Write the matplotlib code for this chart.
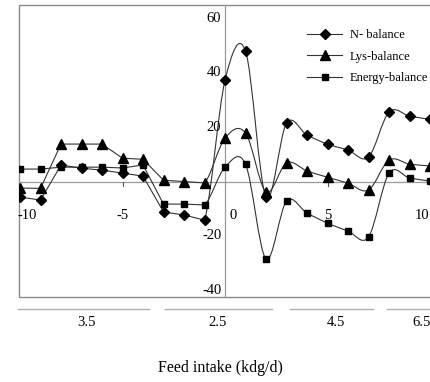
import numpy as np
import matplotlib
matplotlib.use("Agg")
import matplotlib.pyplot as plt
from matplotlib.path import Path
from matplotlib.patches import PathPatch, Rectangle
from matplotlib.lines import Line2D
import matplotlib.transforms as mtransforms

plt.rcParams['font.family'] = ['Liberation Serif', 'DejaVu Serif']

# ---- data ----
x_vals = [-10, -9, -8, -7, -6, -5, -4, -3, -2, -1, 0, 1, 2, 3, 4, 5, 6, 7, 8, 9, 10]
n_balance = [-5.7, -6.8, 6.1, 4.9, 4.2, 3.1, 2.0, -11.2, -12.3, -14.2,
             37.3, 48.0, -5.7, 21.5, 17.1, 13.8, 11.6, 9.0, 25.6, 24.1, 22.9]
lys_balance = [-2.4, -2.5, 13.8, 13.8, 13.8, 8.6, 8.2, 0.5, 0.0, -0.5,
               16.0, 17.9, -3.8, 6.9, 3.9, 1.6, -0.6, -3.1, 7.9, 6.4, 5.8]
energy_balance = [4.6, 4.6, 5.3, 5.3, 5.3, 5.0, 6.1, -8.3, -8.3, -8.6,
                  5.3, 6.4, -28.5, -7.2, -11.6, -15.3, -18.2, -20.4, 3.1, 1.3, 0.2]
series_names = ["N- balance", "Lys-balance", "Energy-balance"]
x_ticks = [-10, -5, 0, 5, 10]
y_ticks = [-40, -20, 0, 20, 40, 60]
group_labels = ["3.5", "2.5", "4.5", "6.5"]
group_spans = [(-10.1, -3.7), (-2.95, 2.27), (3.15, 7.2), (7.9, 10.5)]
group_label_x = [-6.75, -0.37, 5.4, 9.6]
x_label = "Feed intake (kdg/d)"

# ---- figure ----
W, H = 430, 382
fig = plt.figure(figsize=(W / 100, H / 100), dpi=100)
ax_left, ax_right_px = 19, 19 + (10.5 + 10.05) * 20.5
ax_top, ax_bot = 5, 297
ax = fig.add_axes([ax_left / W, (H - ax_bot) / H, (ax_right_px - ax_left) / W,
                   (ax_bot - ax_top) / H])
ax.set_xlim(-10.05, 10.5)
ax.set_ylim(-42.5, 65)

for s in ax.spines.values():
    s.set_visible(False)
frame = Rectangle((0, 0), 1, 1, transform=ax.transAxes, fill=False,
                  edgecolor='#8a8a8a', lw=1.0, clip_on=False)
ax.add_patch(frame)
ax.axhline(0, color='#9a9a9a', lw=0.9, zorder=1)
ax.axvline(0, color='#9a9a9a', lw=0.9, zorder=1)


def smooth_path(xs, ys, smooth_from=-1):
    pts = np.column_stack([xs, ys]).astype(float)
    n = len(pts)
    verts = [pts[0]]
    codes = [Path.MOVETO]
    for i in range(n - 1):
        p1 = pts[i]
        p2 = pts[i + 1]
        if p1[0] < smooth_from:
            verts.append(p2)
            codes.append(Path.LINETO)
            continue
        p0 = pts[i - 1] if i > 0 else pts[i]
        p3 = pts[i + 2] if i + 2 < n else pts[i + 1]
        c1 = p1 + (p2 - p0) / 6.0
        c2 = p2 - (p3 - p1) / 6.0
        verts += [c1, c2, p2]
        codes += [Path.CURVE4] * 3
    return Path(verts, codes)


markers = ['D', '^', 's']
msizes = [5, 6.5, 5]
handles = []
for ys, m, ms, name in zip([n_balance, lys_balance, energy_balance], markers, msizes, series_names):
    ax.add_patch(PathPatch(smooth_path(x_vals, ys), fill=False, edgecolor='#333333', lw=0.8, zorder=2))
    ax.plot(x_vals, ys, linestyle='none', marker=m, ms=ms, color='black', zorder=3)
    handles.append(Line2D([], [], color='#333333', lw=0.8, marker=m, ms=ms,
                          markerfacecolor='black', markeredgecolor='black', label=name))

leg = ax.legend(handles=handles, loc='upper left', bbox_to_anchor=(0.684, 0.918),
                frameon=False, fontsize=9, handlelength=2.8, handletextpad=0.6,
                labelspacing=0.78, borderaxespad=0, borderpad=0)

# ticks
ax.set_xticks([])
ax.set_yticks([])
for t in x_ticks:
    if t in (-5, 5):
        ax.plot([t, t], [0, -1.6], color='#555555', lw=0.8, zorder=1)
    if t == 0:
        continue
    off = 0
    if t == -10:
        off = 0.35
    if t == 10:
        off = -0.4
    ax.text(t + off, -12.5, f"{t}", ha='center', va='center', fontsize=10.5)
ax.text(0.38, -12.5, "0", ha='center', va='center', fontsize=10.5)
for t in y_ticks:
    if t == 0:
        continue
    ax.text(-0.18, t, f"{t}", ha='right', va='center', fontsize=10.5)

# group band below axes
trans = mtransforms.blended_transform_factory(ax.transData, ax.transAxes)
for (a, b), lab, lx in zip(group_spans, group_labels, group_label_x):
    ax.plot([a, b], [-0.041, -0.041], transform=trans, color='#b0b0b0', lw=1.0, clip_on=False)
    ax.text(lx, -0.089, lab, transform=trans, ha='center', va='center', fontsize=10.5)

fig.text(220 / W, 1 - 368 / H, x_label, ha='center', va='center', fontsize=11.5)

fig.savefig("out.png", dpi=100)
